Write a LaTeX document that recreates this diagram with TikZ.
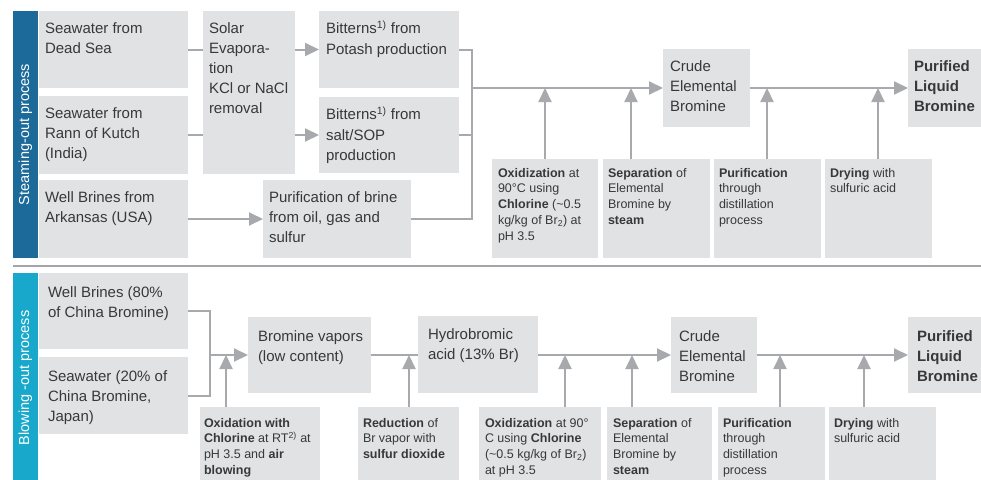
\documentclass[tikz,border=0pt]{standalone}
\usepackage{fontspec}
\setmainfont{Liberation Sans}
\usetikzlibrary{arrows.meta}
\definecolor{boxgray}{HTML}{E1E2E4}
\definecolor{linegray}{HTML}{A7A9AC}
\definecolor{sepgray}{HTML}{A3A5A8}
\definecolor{txtgray}{HTML}{383838}
\definecolor{stripdark}{HTML}{1C6A9A}
\definecolor{striplight}{HTML}{17A8CB}
\tikzset{
  boxst/.style={fill=boxgray, draw=none, inner sep=0pt, outer sep=0pt, anchor=north west},
  bigtxt/.style={anchor=north west, inner sep=0pt, outer sep=0pt, align=left, text=txtgray, font=\fontsize{15}{20.2}\selectfont},
  smalltxt/.style={anchor=north west, inner sep=0pt, outer sep=0pt, align=left, text=txtgray, font=\fontsize{12.5}{15.8}\selectfont},
  striptxt/.style={rotate=90, inner sep=0pt, text=white, font=\fontsize{14.5}{17}\selectfont},
  ln/.style={draw=linegray, line width=2pt},
  arr/.style={ln, -{Triangle[length=14pt,width=13pt]}},
}
% style name x1 y1 x2 y2 dx dy text
\newcommand\mybx[9]{%
  \node[boxst, minimum width={#5-#3}, minimum height={#6-#4}] (#2) at (#3,#4) {};
  \node[#1] (#2t) at ([shift={(#7,#8)}]#2.north west) {#9};}
\newcommand\bigstr{\rule{0pt}{12pt}}
\newcommand\smlstr{\rule{0pt}{10pt}}
\begin{document}
\begin{tikzpicture}[x=1pt,y=-1pt]
\useasboundingbox (0,0) rectangle (981,479);
% ---------------- top: steaming-out ----------------
\node[boxst, fill=stripdark, minimum width=25, minimum height=247] (s1) at (13,11) {};
\node[striptxt] (s1t) at (s1.center) {Steaming-out process};

\mybx{bigtxt}{dead}{39}{11}{188}{88}{6}{10}{\bigstr Seawater from\\Dead Sea}
\mybx{bigtxt}{rann}{39}{96}{188}{174}{6}{10}{\bigstr Seawater from\\Rann of Kutch\\(India)}
\mybx{bigtxt}{ark}{39}{180}{188}{258}{6}{10}{\bigstr Well Brines from\\Arkansas (USA)}
\mybx{bigtxt}{solar}{203}{11}{295}{174}{6}{10}{\bigstr Solar\\Evapora-\\tion\\KCl or NaCl\\removal}
\mybx{bigtxt}{pot}{319}{11}{459}{88}{7}{10}{\bigstr Bitterns\textsuperscript{1)} from\\Potash production}
\mybx{bigtxt}{sop}{319}{97}{459}{173}{7}{10}{\bigstr Bitterns\textsuperscript{1)} from\\salt/SOP\\production}
\mybx{bigtxt}{pur}{263}{180}{411}{258}{6}{10}{\bigstr Purification of brine\\from oil, gas and\\sulfur}
\mybx{bigtxt}{crudeA}{663}{49}{750}{127}{7}{10}{\bigstr Crude\\Elemental\\Bromine}
\mybx{bigtxt}{purA}{908}{49}{981}{127}{6}{10}{\bigstr\textbf{Purified}\\\textbf{Liquid}\\\textbf{Bromine}}
\mybx{smalltxt}{oxA}{492}{159}{598}{258}{6}{8}{\smlstr\textbf{Oxidization} at\\90°C using\\\textbf{Chlorine} (\textasciitilde0.5\\kg/kg of Br\textsubscript{2}) at\\pH 3.5}
\mybx{smalltxt}{sepA}{603}{159}{710}{258}{5}{8}{\smlstr\textbf{Separation} of\\Elemental\\Bromine by\\\textbf{steam}}
\mybx{smalltxt}{distA}{714}{159}{821}{258}{5}{8}{\smlstr\textbf{Purification}\\through\\distillation\\process}
\mybx{smalltxt}{dryA}{825}{159}{932}{258}{5}{8}{\smlstr\textbf{Drying} with\\sulfuric acid}

\coordinate (j1) at (472,88);
\draw[ln] (dead.east) -- (dead.east -| solar.west);
\draw[ln] (rann.east) -- (rann.east -| solar.west);
\draw[arr] (solar.east |- pot.west) -- (pot.west);
\draw[arr] (solar.east |- sop.west) -- (sop.west);
\draw[arr] (ark.east) -- (ark.east -| pur.west);
\draw[ln] (pot.east) -| (j1);
\draw[ln] (pur.east) -| (j1);
\draw[ln] (sop.east) -- (sop.east -| j1);
\draw[arr] (j1) -- (crudeA.west |- j1);
\draw[arr] (crudeA.east |- j1) -- (purA.west |- j1);
\draw[arr] ([xshift=53]oxA.north west) -- ([xshift=53]oxA.north west |- j1);
\draw[arr] ([xshift=28]sepA.north west) -- ([xshift=28]sepA.north west |- j1);
\draw[arr] ([xshift=53]distA.north west) -- ([xshift=53]distA.north west |- j1);
\draw[arr] ([xshift=53]dryA.north west) -- ([xshift=53]dryA.north west |- j1);

% ---------------- separator ----------------
\coordinate (sepL) at (13,266);
\coordinate (sepR) at (981,266);
\draw[draw=sepgray, line width=2pt] (sepL) -- (sepR);

% ---------------- bottom: blowing-out ----------------
\node[boxst, fill=striplight, minimum width=25, minimum height=208] (s2) at (13,273) {};
\node[striptxt] (s2t) at ([yshift=-1]s2.center) {Blowing -out process};

\mybx{bigtxt}{well}{39}{273}{188}{349}{9}{12}{\bigstr Well Brines (80\%\\of China Bromine)}
\mybx{bigtxt}{sea}{39}{357}{188}{434}{9}{12}{\bigstr Seawater (20\% of\\China Bromine,\\Japan)}
\mybx{bigtxt}{vap}{248}{317}{371}{393}{10}{12}{\bigstr Bromine vapors\\(low content)}
\mybx{bigtxt}{hyd}{418}{316}{538}{393}{10}{11}{\bigstr Hydrobromic\\acid (13\% Br)}
\mybx{bigtxt}{crudeB}{671}{317}{757}{393}{8}{12}{\bigstr Crude\\Elemental\\Bromine}
\mybx{bigtxt}{purB}{908}{317}{981}{393}{9}{12}{\bigstr\textbf{Purified}\\\textbf{Liquid}\\\textbf{Bromine}}
\mybx{smalltxt}{oxB}{200}{407}{320}{481}{4}{10}{\smlstr\textbf{Oxidation with}\\\textbf{Chlorine} at RT\textsuperscript{2)} at\\pH 3.5 and \textbf{air}\\\textbf{blowing}}
\mybx{smalltxt}{red}{358}{407}{459}{481}{5}{10}{\smlstr\textbf{Reduction} of\\Br vapor with\\\textbf{sulfur dioxide}}
\mybx{smalltxt}{oxC}{479}{407}{601}{481}{6}{10}{\smlstr\textbf{Oxidization} at 90°\\C using \textbf{Chlorine}\\(\textasciitilde0.5 kg/kg of Br\textsubscript{2})\\at pH 3.5}
\mybx{smalltxt}{sepB}{607}{407}{712}{481}{6}{10}{\smlstr\textbf{Separation} of\\Elemental\\Bromine by\\\textbf{steam}}
\mybx{smalltxt}{distB}{718}{407}{825}{481}{5}{10}{\smlstr\textbf{Purification}\\through\\distillation\\process}
\mybx{smalltxt}{dryB}{829}{407}{936}{481}{5}{10}{\smlstr\textbf{Drying} with\\sulfuric acid}

\coordinate (j2) at (210,355);
\draw[ln] (well.east) -| (j2);
\draw[ln] (sea.east) -| (j2);
\draw[arr] (j2) -- (vap.west |- j2);
\draw[ln] (vap.east |- j2) -- (hyd.west |- j2);
\draw[arr] (hyd.east |- j2) -- (crudeB.west |- j2);
\draw[arr] (crudeB.east |- j2) -- (purB.west |- j2);
\draw[arr] ([xshift=26]oxB.north west) -- ([xshift=26]oxB.north west |- j2);
\draw[arr] ([xshift=51]red.north west) -- ([xshift=51]red.north west |- j2);
\draw[arr] ([xshift=86]oxC.north west) -- ([xshift=86]oxC.north west |- j2);
\draw[arr] ([xshift=25]sepB.north west) -- ([xshift=25]sepB.north west |- j2);
\draw[arr] ([xshift=62]distB.north west) -- ([xshift=62]distB.north west |- j2);
\draw[arr] ([xshift=35]dryB.north west) -- ([xshift=35]dryB.north west |- j2);
\end{tikzpicture}
\end{document}
